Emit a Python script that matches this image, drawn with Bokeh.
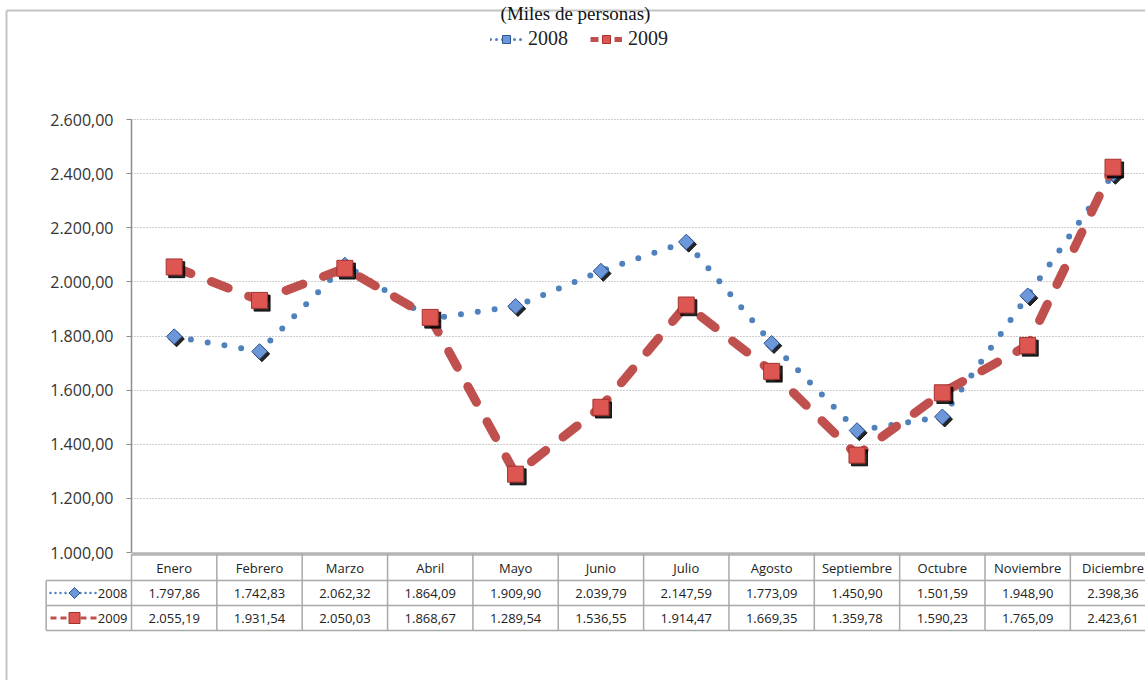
import numpy as np
from bokeh.plotting import figure
from bokeh.models import Range1d, FixedTicker, Legend, LegendItem, ColumnDataSource, Label
from bokeh.transform import dodge
from bokeh.embed import file_html
from bokeh.resources import INLINE
from bokeh.core.properties import value

# ---------------- data ----------------
months = ["Enero", "Febrero", "Marzo", "Abril", "Mayo", "Junio", "Julio",
          "Agosto", "Septiembre", "Octubre", "Noviembre", "Diciembre"]
v2008 = [1797.86, 1742.83, 2062.32, 1864.09, 1909.90, 2039.79, 2147.59,
         1773.09, 1450.90, 1501.59, 1948.90, 2398.36]
v2009 = [2055.19, 1931.54, 2050.03, 1868.67, 1289.54, 1536.55, 1914.47,
         1669.35, 1359.78, 1590.23, 1765.09, 2423.61]
series_names = ["2008", "2009"]
y_ticks = [1000, 1200, 1400, 1600, 1800, 2000, 2200, 2400, 2600]
title_text = "(Miles de personas)"


def fmt(v):
    s = f"{v:,.2f}"
    return s.replace(",", "X").replace(".", ",").replace("X", ".")


BLUE = "#4F81BD"
RED = "#C0504D"
SANS = "Open Sans"
SERIF = "Liberation Serif"
GRID = "#9a9a9a"
TBL = "#a9a9a9"
DFILL, DLINE = "#6C97D8", "#2E5597"
SFILL, SLINE = "#DE5652", "#A3332F"

# ---------------- geometry of the figure ----------------
W, H = 1145, 680
LEFT = 131            # frame left (canvas px)
FRAME_H = 552         # frame height (canvas px)
PX_PER_COL = 85.35
PX_PER_UNIT = 433 / 1600.0
Y0 = y_ticks[0]
X_END = -0.5 + (W - LEFT) / PX_PER_COL
Y_END = Y0 + FRAME_H / PX_PER_UNIT


def ycan(px_below):
    """data y for a position px_below pixels under the chart base line"""
    return Y0 - px_below / PX_PER_UNIT


def xcan(px_left_of_frame):
    return -0.5 - px_left_of_frame / PX_PER_COL


p = figure(width=W, height=H, x_range=Range1d(-0.5, X_END), y_range=Range1d(Y0, Y_END),
           x_axis_location=None, output_backend="svg", toolbar_location=None,
           min_border_left=LEFT, min_border_right=0, min_border_top=0,
           min_border_bottom=H - FRAME_H)
p.outline_line_color = None
p.xgrid.visible = False
p.ygrid.grid_line_color = GRID
p.ygrid.grid_line_dash = "1 2"
p.ygrid.grid_line_width = 1

ya = p.yaxis[0]
ya.ticker = FixedTicker(ticks=y_ticks)
ya.bounds = (y_ticks[0], y_ticks[-1])
ya.major_label_overrides = {t: fmt(t) for t in y_ticks}
ya.major_label_text_font = SANS
ya.major_label_text_font_size = "16px"
ya.major_label_text_color = "#333333"
ya.major_label_standoff = 13
ya.axis_line_color = "#8c8c8c"
ya.axis_line_width = 1.5
ya.major_tick_line_color = "#8c8c8c"
ya.major_tick_out = 5
ya.major_tick_in = 0
ya.minor_tick_line_color = None

src = ColumnDataSource(dict(x=list(range(len(months))), y08=v2008, y09=v2009))

p.line("x", "y08", source=src, line_color=BLUE, line_width=6, line_dash="0 17", line_cap="round")
p.scatter(x=dodge("x", 0.028), y=dodge("y08", -9), source=src, marker="square", angle=np.pi / 4,
          size=11, fill_color="black", line_color="black", alpha=0.85)
p.scatter("x", "y08", source=src, marker="square", angle=np.pi / 4, size=11,
          fill_color=DFILL, line_color=DLINE, line_width=1)

p.line("x", "y09", source=src, line_color=RED, line_width=9, line_dash="18 22", line_cap="round")
p.scatter(x=dodge("x", 0.03), y=dodge("y09", -10), source=src, marker="square",
          size=16, fill_color="black", line_color="black", alpha=0.85)
p.scatter("x", "y09", source=src, marker="square", size=16,
          fill_color=SFILL, line_color=SLINE, line_width=1)

# legend proxies (NaN data: visible only in the legend)
nan = [np.nan]
lg08 = p.line(x=nan, y=nan, line_color=BLUE, line_width=3, line_dash="0 6", line_cap="round")
lg08m = p.scatter(x=nan, y=nan, marker="square", angle=np.pi / 4, size=8,
                  fill_color=DFILL, line_color=DLINE)
lg09 = p.line(x=nan, y=nan, line_color=RED, line_width=5, line_dash="8 4")
lg09m = p.scatter(x=nan, y=nan, marker="square", size=11, fill_color=SFILL, line_color=SLINE)

legend = Legend(items=[LegendItem(label=series_names[0], renderers=[lg08, lg08m]),
                       LegendItem(label=series_names[1], renderers=[lg09, lg09m])],
                location=(359, 502), orientation="horizontal", spacing=22,
                glyph_width=32, glyph_height=20, label_height=20, label_standoff=6,
                padding=0, margin=0, border_line_color=None, background_fill_alpha=0,
                label_text_font=SERIF, label_text_font_size="20px", label_text_color="#222222")
p.add_layout(legend)

# outer chart box (left and top edges)
bx = xcan(LEFT - 6)
by = ycan(-(FRAME_H - 10))
p.segment(x0=[bx, bx], y0=[by, by], x1=[bx, X_END + 1], y1=[ycan(300), by],
          line_color="#c4c4c4", line_width=2, level="annotation")

p.add_layout(Label(x=444, y=FRAME_H - 2, x_units="screen", y_units="screen", text=title_text,
                   text_align="center", text_baseline="top", text_font=SERIF,
                   text_font_size="19px", text_color="#111111"))

# ---------------- data table (below the chart base) ----------------
n = len(months)
r0, r1, r2, r3 = 1.5, 28, 53, 78
cx = list(range(n))
TL = xcan(PX_PER_COL)  # left edge of the key column

p.segment(x0=[-0.5], y0=[ycan(r0)], x1=[X_END], y1=[ycan(r0)], line_color="#b5b5b5",
          line_width=3.5, level="annotation")
p.segment(x0=[TL] * 3, y0=[ycan(r) for r in (r1, r2, r3)], x1=[X_END] * 3,
          y1=[ycan(r) for r in (r1, r2, r3)], line_color=TBL, line_width=1.5, level="annotation")
vx = [c - 0.5 for c in range(n + 1)]
p.segment(x0=vx, y0=[ycan(r0)] * len(vx), x1=vx, y1=[ycan(r3)] * len(vx),
          line_color=TBL, line_width=1.5, level="annotation")
p.segment(x0=[TL], y0=[ycan(r1)], x1=[TL], y1=[ycan(r3)], line_color=TBL, line_width=1.5,
          level="annotation")

tf = value(SANS)
yh, y1c, y2c = ycan(15), ycan((r1 + r2) / 2), ycan((r2 + r3) / 2)
p.text(x=cx, y=[yh] * n, text=months, text_align="center", text_baseline="middle",
       text_font=tf, text_font_size="13px", text_color="#222222", level="annotation")
p.text(x=cx, y=[y1c] * n, text=[fmt(v) for v in v2008], text_align="center",
       text_baseline="middle", text_font=tf, text_font_size="13px", text_color="#222222",
       level="annotation")
p.text(x=cx, y=[y2c] * n, text=[fmt(v) for v in v2009], text_align="center",
       text_baseline="middle", text_font=tf, text_font_size="13px", text_color="#222222",
       level="annotation")
p.text(x=[xcan(4)] * 2, y=[y1c, y2c], text=series_names, text_align="right",
       text_baseline="middle", text_font=tf, text_font_size="13px", text_color="#222222",
       level="annotation")

# legend keys inside the table
kx0, kx1, km = xcan(81), xcan(33), xcan(57)
p.line(x=[kx0, kx1], y=[y1c, y1c], line_color=BLUE, line_width=2.5, line_dash="0 5",
       line_cap="round", level="annotation")
p.line(x=[kx0, kx1], y=[y2c, y2c], line_color=RED, line_width=3, line_dash="6 4",
       level="annotation")
dx, dy = 5.5 / PX_PER_COL, 5.5 / PX_PER_UNIT
p.patch(x=[km, km + dx, km, km - dx], y=[y1c + dy, y1c, y1c - dy, y1c],
        fill_color=DFILL, line_color=DLINE, line_width=1, level="annotation")
sx, sy = 5.5 / PX_PER_COL, 5.5 / PX_PER_UNIT
p.patch(x=[km - sx, km + sx, km + sx, km - sx], y=[y2c + sy, y2c + sy, y2c - sy, y2c - sy],
        fill_color=SFILL, line_color=SLINE, line_width=1, level="annotation")

open("out.html", "w").write(file_html(p, INLINE))
